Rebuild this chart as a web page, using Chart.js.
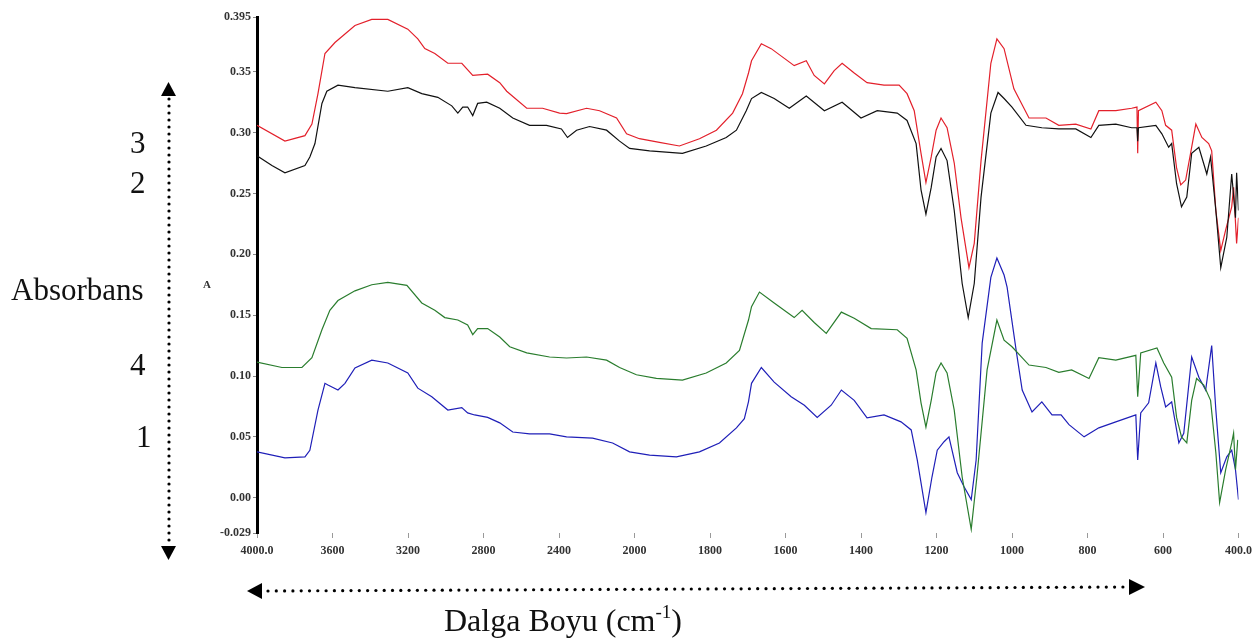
<!DOCTYPE html>
<html>
<head>
<meta charset="utf-8">
<script src="https://cdn.jsdelivr.net/npm/chart.js@4.4.1/dist/chart.umd.min.js"></script>
<style>
  body { margin: 0; background: #fff; }
  #wrap { position: relative; width: 1258px; height: 642px; overflow: hidden; }
  #chart { position: absolute; left: 0; top: 0; }
  .lbl { position: absolute; font-family: "Liberation Serif", "Times New Roman", serif; font-size: 31px; line-height: 1; color: #111; white-space: nowrap; }
  .axA { position: absolute; font-family: "Liberation Serif", serif; font-size: 11px; font-weight: bold; line-height: 1; color: #333; }
</style>
</head>
<body>
<div id="wrap">
  <canvas id="chart" width="1258" height="642"></canvas>
  <span class="lbl" style="left:130px;top:127px">3</span>
  <span class="lbl" style="left:130px;top:167px">2</span>
  <span class="lbl" style="left:11px;top:274px">Absorbans</span>
  <span class="lbl" style="left:130px;top:349px">4</span>
  <span class="lbl" style="left:136px;top:421px">1</span>
  <span class="lbl" style="left:444px;top:604px;font-size:32px">Dalga Boyu (cm<span style="font-size:19px;position:relative;top:-13px">-1</span>)</span>
  <span class="axA" style="left:203px;top:279px">A</span>
</div>
<script>
// Eksen etiketleri
const xTickWn = [4000, 3600, 3200, 2800, 2400, 2000, 1800, 1600, 1400, 1200, 1000, 800, 600, 400];
const xTickLabels = ["4000.0", "3600", "3200", "2800", "2400", "2000", "1800", "1600", "1400", "1200", "1000", "800", "600", "400.0"];
const yTicks = [-0.029, 0.00, 0.05, 0.10, 0.15, 0.20, 0.25, 0.30, 0.35, 0.395];
const yTickLabels = ["-0.029", "0.00", "0.05", "0.10", "0.15", "0.20", "0.25", "0.30", "0.35", "0.395"];

// Numune 3 (kirmizi)
const wn3 = [4000, 3852, 3746, 3709, 3677, 3640, 3587, 3481, 3392, 3307,
  3201, 3148, 3111, 3058, 2989, 2915, 2857, 2778, 2714, 2677,
  2571, 2487, 2397, 2360, 2254, 2185, 2095, 2042, 1987, 1934,
  1881, 1828, 1783, 1740, 1714, 1698, 1690, 1664, 1638, 1603,
  1577, 1545, 1524, 1497, 1471, 1450, 1418, 1384, 1339, 1299,
  1278, 1259, 1241, 1228, 1214, 1201, 1188, 1172, 1153, 1135,
  1114, 1100, 1082, 1056, 1040, 1021, 995, 955, 910, 876,
  831, 791, 770, 725, 683, 669, 667, 665, 619, 603,
  593, 577, 564, 553, 540, 527, 513, 497, 479, 471,
  460, 447, 434, 418, 413, 405, 400];
const abs3 = [0.306, 0.293, 0.2975, 0.307, 0.332, 0.365, 0.374, 0.388, 0.393, 0.393,
  0.385, 0.377, 0.369, 0.365, 0.357, 0.357, 0.347, 0.348, 0.341, 0.334,
  0.320, 0.320, 0.316, 0.3156, 0.320, 0.318, 0.312, 0.299, 0.295, 0.292,
  0.289, 0.295, 0.302, 0.316, 0.332, 0.349, 0.359, 0.373, 0.369, 0.361,
  0.355, 0.359, 0.347, 0.340, 0.351, 0.357, 0.349, 0.341, 0.339, 0.339,
  0.332, 0.318, 0.283, 0.259, 0.280, 0.302, 0.312, 0.304, 0.275, 0.230,
  0.189, 0.209, 0.277, 0.357, 0.377, 0.369, 0.336, 0.312, 0.312, 0.306,
  0.307, 0.303, 0.318, 0.318, 0.320, 0.321, 0.283, 0.318, 0.325, 0.318,
  0.306, 0.302, 0.271, 0.257, 0.261, 0.283, 0.307, 0.296, 0.291, 0.285,
  0.236, 0.203, 0.220, 0.239, 0.255, 0.209, 0.230];

// Numune 2 (siyah)
const wn2 = [4000, 3921, 3852, 3746, 3720, 3693, 3656, 3630, 3571, 3481,
  3307, 3201, 3127, 3042, 2968, 2936, 2910, 2884, 2857, 2831,
  2783, 2714, 2645, 2556, 2466, 2387, 2355, 2307, 2238, 2148,
  2079, 2026, 1960, 1873, 1810, 1757, 1730, 1704, 1690, 1664,
  1630, 1590, 1545, 1497, 1450, 1400, 1357, 1304, 1278, 1254,
  1241, 1228, 1214, 1201, 1188, 1172, 1153, 1132, 1116, 1100,
  1082, 1056, 1037, 1021, 1000, 963, 921, 876, 831, 791,
  770, 725, 683, 669, 667, 665, 619, 603, 585, 577,
  564, 551, 537, 524, 505, 484, 474, 460, 447, 431,
  418, 408, 405, 400];
const abs2 = [0.281, 0.273, 0.267, 0.273, 0.280, 0.291, 0.324, 0.334, 0.339, 0.337,
  0.334, 0.337, 0.332, 0.329, 0.322, 0.316, 0.321, 0.321, 0.314, 0.324,
  0.325, 0.320, 0.312, 0.306, 0.306, 0.303, 0.296, 0.302, 0.305, 0.302,
  0.293, 0.287, 0.285, 0.283, 0.289, 0.296, 0.302, 0.318, 0.328, 0.333,
  0.328, 0.320, 0.330, 0.318, 0.325, 0.312, 0.318, 0.316, 0.310, 0.291,
  0.253, 0.233, 0.255, 0.280, 0.287, 0.277, 0.236, 0.176, 0.148, 0.176,
  0.247, 0.316, 0.333, 0.328, 0.321, 0.306, 0.304, 0.303, 0.303, 0.296,
  0.306, 0.307, 0.304, 0.304, 0.293, 0.304, 0.306, 0.299, 0.288, 0.291,
  0.258, 0.239, 0.247, 0.283, 0.288, 0.266, 0.280, 0.236, 0.189, 0.214,
  0.266, 0.230, 0.267, 0.236];

// Numune 4 (yesil)
const wn4 = [4000, 3868, 3762, 3709, 3656, 3614, 3571, 3481, 3392, 3307,
  3206, 3127, 3058, 3005, 2936, 2884, 2857, 2831, 2778, 2714,
  2661, 2571, 2450, 2360, 2254, 2148, 2079, 1995, 1942, 1873,
  1810, 1757, 1722, 1698, 1690, 1669, 1630, 1577, 1556, 1524,
  1492, 1452, 1418, 1373, 1304, 1278, 1254, 1241, 1228, 1214,
  1201, 1188, 1172, 1153, 1132, 1108, 1093, 1066, 1040, 1021,
  1000, 955, 910, 876, 842, 796, 770, 725, 672, 667,
  659, 616, 598, 577, 564, 551, 537, 524, 511, 492,
  474, 460, 450, 434, 418, 413, 408, 402];
const abs4 = [0.1115, 0.107, 0.107, 0.115, 0.138, 0.154, 0.162, 0.170, 0.175, 0.177,
  0.1745, 0.160, 0.154, 0.148, 0.146, 0.142, 0.134, 0.139, 0.139, 0.132,
  0.124, 0.119, 0.1156, 0.1148, 0.1156, 0.113, 0.107, 0.101, 0.098, 0.0967,
  0.1025, 0.1107, 0.121, 0.146, 0.157, 0.169, 0.160, 0.148, 0.154, 0.144,
  0.135, 0.1525, 0.1475, 0.139, 0.138, 0.131, 0.105, 0.078, 0.058, 0.080,
  0.103, 0.1107, 0.1025, 0.072, 0.017, -0.026, 0.017, 0.105, 0.146, 0.1295,
  0.124, 0.109, 0.107, 0.103, 0.105, 0.098, 0.115, 0.113, 0.117, 0.083,
  0.119, 0.123, 0.1107, 0.099, 0.066, 0.050, 0.045, 0.080, 0.098, 0.0926,
  0.080, 0.037, -0.004, 0.023, 0.045, 0.053, 0.023, 0.0475];

// Numune 1 (mavi)
const wn1 = [4000, 3852, 3746, 3720, 3677, 3640, 3624, 3571, 3534, 3481,
  3392, 3307, 3201, 3148, 3074, 2989, 2915, 2884, 2847, 2778,
  2714, 2645, 2556, 2450, 2360, 2222, 2116, 2026, 1960, 1889,
  1828, 1775, 1730, 1709, 1698, 1690, 1664, 1630, 1585, 1550,
  1516, 1479, 1452, 1418, 1384, 1339, 1294, 1267, 1251, 1228,
  1212, 1198, 1180, 1167, 1145, 1127, 1108, 1095, 1079, 1056,
  1040, 1021, 1013, 989, 973, 947, 921, 894, 870, 849,
  809, 770, 725, 672, 667, 659, 638, 619, 606, 593,
  577, 558, 545, 524, 505, 487, 471, 460, 447, 431,
  418, 408, 400];
const abs1 = [0.0377, 0.0328, 0.0336, 0.039, 0.072, 0.094, 0.0926, 0.0885, 0.094, 0.1066,
  0.113, 0.1107, 0.1025, 0.090, 0.083, 0.072, 0.074, 0.0697, 0.068, 0.066,
  0.0615, 0.054, 0.0525, 0.0525, 0.050, 0.049, 0.045, 0.0377, 0.035, 0.0336,
  0.0377, 0.045, 0.0574, 0.065, 0.079, 0.094, 0.107, 0.095, 0.083, 0.076,
  0.066, 0.076, 0.0885, 0.080, 0.0656, 0.068, 0.0623, 0.0557, 0.031, -0.0123,
  0.017, 0.039, 0.046, 0.050, 0.0205, 0.009, -0.0016, 0.031, 0.127, 0.181,
  0.197, 0.183, 0.173, 0.121, 0.0885, 0.0705, 0.0787, 0.068, 0.068, 0.060,
  0.050, 0.0574, 0.0623, 0.068, 0.031, 0.0697, 0.078, 0.1107, 0.091, 0.0746,
  0.0787, 0.045, 0.053, 0.1156, 0.099, 0.0885, 0.125, 0.072, 0.0205, 0.0336,
  0.039, 0.023, -0.0016];

// 2000 cm-1 altinda olcek iki katina cikiyor
function toAxis(wn) {
  return wn >= 2000 ? (4000 - wn) / 400 : 5 + (2000 - wn) / 200;
}

function series(wn, abs) {
  return wn.map((w, i) => ({ x: toAxis(w), y: abs[i] }));
}

// Oklar (noktali)
const arrowsPlugin = {
  id: "arrows",
  afterDraw(chart) {
    const c = chart.ctx;
    c.save();
    c.fillStyle = "#000";
    // dikey ok
    for (let y = 99; y <= 542; y += 7) {
      c.beginPath(); c.arc(169, y, 1.6, 0, Math.PI * 2); c.fill();
    }
    c.beginPath(); c.moveTo(168.5, 82); c.lineTo(161, 96); c.lineTo(176, 96); c.closePath(); c.fill();
    c.beginPath(); c.moveTo(168.5, 560); c.lineTo(161, 546); c.lineTo(176, 546); c.closePath(); c.fill();
    // yatay ok
    const x0 = 268, x1 = 1124;
    for (let x = x0; x <= x1; x += 8.3) {
      const y = 591 - 4 * (x - x0) / (x1 - x0);
      c.beginPath(); c.arc(x, y, 1.6, 0, Math.PI * 2); c.fill();
    }
    c.beginPath(); c.moveTo(247, 591); c.lineTo(262, 583); c.lineTo(262, 599); c.closePath(); c.fill();
    c.beginPath(); c.moveTo(1145, 587); c.lineTo(1129, 579); c.lineTo(1129, 595); c.closePath(); c.fill();
    c.restore();
  }
};

const tickFont = { family: "'Liberation Serif', serif", size: 12, weight: "bold" };

new Chart(document.getElementById("chart"), {
  type: "line",
  data: {
    datasets: [
      { label: "2", data: series(wn2, abs2), borderColor: "#111111" },
      { label: "3", data: series(wn3, abs3), borderColor: "#e3202b" },
      { label: "4", data: series(wn4, abs4), borderColor: "#2a7d2e" },
      { label: "1", data: series(wn1, abs1), borderColor: "#1f1fb8" }
    ]
  },
  options: {
    responsive: false,
    animation: false,
    layout: { padding: { left: 0, right: 18, top: 17, bottom: 0 } },
    elements: {
      point: { radius: 0 },
      line: { borderWidth: 1.2, tension: 0 }
    },
    plugins: {
      legend: { display: false },
      tooltip: { enabled: false }
    },
    scales: {
      x: {
        type: "linear",
        min: 0,
        max: 13,
        afterBuildTicks: s => { s.ticks = xTickWn.map(w => ({ value: toAxis(w) })); },
        afterFit: s => { s.height = 109; },
        ticks: {
          autoSkip: false,
          maxRotation: 0,
          padding: 6,
          font: tickFont,
          color: "#333",
          callback: (v, i) => xTickLabels[i]
        },
        grid: { drawOnChartArea: false, tickLength: 5, color: "#999" },
        border: { display: false }
      },
      y: {
        min: -0.029,
        max: 0.395,
        afterBuildTicks: s => { s.ticks = yTicks.map(v => ({ value: v })); },
        afterFit: s => { s.width = 257; },
        ticks: {
          padding: 2,
          font: tickFont,
          color: "#333",
          callback: (v, i) => yTickLabels[i]
        },
        grid: { drawOnChartArea: false, tickLength: 4, color: "#888" },
        border: { display: true, color: "#000", width: 3 }
      }
    }
  },
  plugins: [arrowsPlugin]
});
</script>
</body>
</html>
